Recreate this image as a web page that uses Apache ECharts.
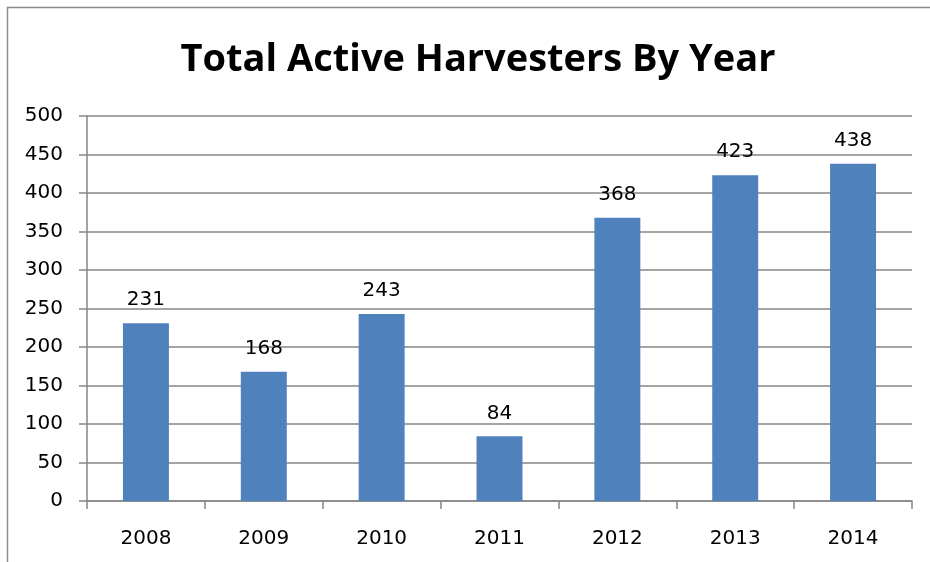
<!DOCTYPE html>
<html><head><meta charset="utf-8">
<script src="https://cdn.jsdelivr.net/npm/echarts@6/dist/echarts.min.js"></script>
<style>html,body{margin:0;padding:0;background:#fff}#c{width:930px;height:562px}</style>
</head><body><div id="c"></div>
<script>
const categories = ['2008','2009','2010','2011','2012','2013','2014'];
const harvesters = [231,168,243,84,368,423,438];
const yTicks = [0,50,100,150,200,250,300,350,400,450,500];

const chart = echarts.init(document.getElementById('c'));
const font = '"DejaVu Sans", sans-serif';
chart.setOption({
  animation: false,
  title: {
    text: 'Total Active Harvesters By Year',
    left: 473, top: 36, textAlign: 'center',
    textStyle: {fontFamily: '"Open Sans", sans-serif', fontWeight: 'bold', fontSize: 38, color: '#000'}
  },
  graphic: [{type:'rect', shape:{x:7.5,y:7.5,width:940,height:600}, style:{fill:'none',stroke:'#8c8c8c',lineWidth:1.5}, silent:true}],
  grid: {left: 87, right: 18, top: 116, bottom: 61},
  xAxis: {
    type: 'category', data: categories,
    axisLine: {lineStyle:{color:'#868686', width:1.5}},
    axisTick: {show:true, length:8, lineStyle:{color:'#868686', width:1.5}},
    axisLabel: {fontFamily: font, fontSize: 20, color:'#000', margin: 28}
  },
  yAxis: {
    type: 'value', min: yTicks[0], max: yTicks[yTicks.length-1], interval: 50,
    axisLine: {show:true, lineStyle:{color:'#868686', width:1.5}},
    axisTick: {show:true, length:8, lineStyle:{color:'#868686', width:1.5}},
    splitLine: {lineStyle:{color:'#868686', width:1.5}},
    axisLabel: {fontFamily: font, fontSize: 20, color:'#000', margin: 24}
  },
  series: [{
    type: 'bar', data: harvesters, barWidth: '39%',
    itemStyle: {color: '#4F81BD'},
    label: {show:true, position:'top', distance: 13, fontFamily: font, fontSize: 20, color:'#000'}
  }]
});
</script></body></html>
